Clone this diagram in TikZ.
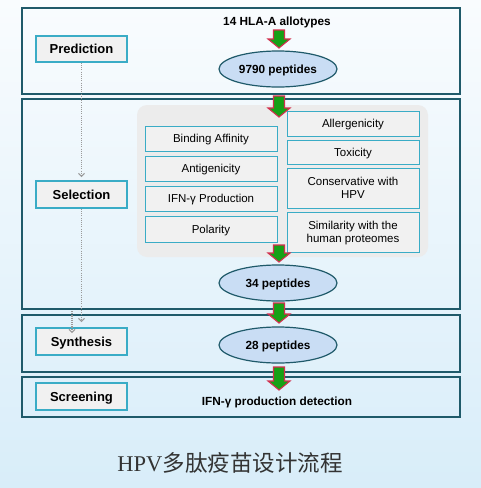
\documentclass[tikz,border=0pt]{standalone}
\usepackage{fontspec}
\setmainfont{Liberation Sans}
\newfontfamily\serifen{Liberation Serif}
\newfontfamily\cjk{Noto Sans CJK SC}
\usetikzlibrary{arrows.meta,shapes.geometric}
\definecolor{panelc}{HTML}{1F5A6A}
\definecolor{boxc}{HTML}{3AACC6}
\definecolor{boxfill}{HTML}{F1F1F1}
\definecolor{ellfill}{HTML}{C9DDF4}
\definecolor{arrg}{HTML}{16A116}
\definecolor{arrr}{HTML}{D2304E}
\definecolor{bgtop}{HTML}{F9FCFE}
\definecolor{bgbot}{HTML}{D8EDF9}
\definecolor{greybg}{HTML}{ECECEC}
\definecolor{dotc}{HTML}{9A9A9A}
\tikzset{
  panel/.style={draw=panelc, line width=1.2pt},
  stagebox/.style={draw=boxc, line width=1.4pt, fill=boxfill, minimum width=91pt, inner sep=0pt, text depth=0pt, font=\fontsize{13}{15}\selectfont\bfseries},
  critbox/.style={draw=boxc, line width=0.9pt, fill=boxfill, minimum width=132pt, inner sep=0pt, font=\fontsize{11.5}{13}\selectfont},
  oneline/.style={critbox, text depth=0pt},
  pep/.style={ellipse, draw=panelc, line width=1.2pt, fill=ellfill, minimum width=118pt, minimum height=36pt, inner sep=0pt, text depth=0pt, font=\fontsize{11.8}{14}\selectfont\bfseries},
  plain/.style={inner sep=0pt, text depth=0pt, font=\fontsize{11.8}{14}\selectfont\bfseries},
  dotarrow/.style={draw=dotc, line width=1.4pt, dash pattern=on 1.1pt off 1.1pt, -{Straight Barb[length=3pt,width=6pt,line width=1pt]}},
}
\newcommand\blockarrow[3]{%
  \draw[fill=arrg, draw=arrr, line width=1.1pt, line join=miter]
    (#1-5.5,#2) -- (#1+5.5,#2) -- (#1+5.5,#3-9) -- (#1+11,#3-9) -- (#1,#3)
    -- (#1-11,#3-9) -- (#1-5.5,#3-9) -- cycle;}
\newcommand\twolines[2]{\begin{tabular}{@{}c@{}}#1\\#2\end{tabular}}
\begin{document}
\begin{tikzpicture}[x=1pt,y=-1pt]
\useasboundingbox (0,0) rectangle (481,488);
\shade[top color=bgtop, bottom color=bgbot] (0,0) rectangle (481,488);
% panels
\draw[panel] (22,8) rectangle (460,94);
\draw[panel] (22,99) rectangle (460,309);
\draw[panel] (22,315) rectangle (460,372);
\draw[panel] (22,377) rectangle (460,417);
% grey area
\fill[greybg, rounded corners=10pt] (137,105) rectangle (428,257);
% stage boxes
\node[stagebox, minimum height=26pt] (pred) at (81.5,49) {Prediction};
\node[stagebox, minimum height=27pt] (sel) at (81.5,194.5) {Selection};
\node[stagebox, minimum height=27pt] (syn) at (81.5,341.5) {Synthesis};
\node[stagebox, minimum height=27pt] (scr) at (81.5,396.5) {Screening};
% criteria
\node[oneline, minimum height=25pt] (ba) at (211,138.5) {Binding Affinity};
\node[oneline, minimum height=25pt] (ant) at (211,168.5) {Antigenicity};
\node[oneline, minimum height=25pt] (ifn) at (211,198.5) {IFN-γ Production};
\node[oneline, minimum height=26pt] (pol) at (211,229) {Polarity};
\node[oneline, minimum height=25pt] (all) at (353,123.5) {Allergenicity};
\node[oneline, minimum height=24pt] (tox) at (353,152) {Toxicity};
\node[critbox, minimum height=40pt] (cons) at (353,188) {};
\node[inner sep=0pt, font=\fontsize{11.5}{13}\selectfont] (consT) at (353,189.5) {\twolines{Conservative with}{HPV}};
\node[critbox, minimum height=40pt] (sim) at (353,232) {};
\node[inner sep=0pt, font=\fontsize{11.5}{13}\selectfont] (simT) at (353,233) {\twolines{Similarity with the}{human proteomes}};
% texts and ellipses
\node[plain] (hla) at (277,21) {14 HLA-A allotypes};
\node[pep] (e1) at (278,69) {9790 peptides};
\node[pep] (e2) at (278,283) {34 peptides};
\node[pep] (e3) at (278,345) {28 peptides};
\node[plain] (det) at (277,401) {IFN-γ production detection};
% block arrows
\blockarrow{279}{30}{48}
\blockarrow{279}{96}{117}
\blockarrow{279}{245}{262}
\blockarrow{279}{303}{323}
\blockarrow{279}{367}{390}
% dotted arrows
\coordinate (d1) at (81.5,177);
\coordinate (d2) at (81.5,322);
\coordinate (d3s) at (72,311);
\coordinate (d3e) at (72,333);
\draw[dotarrow] (pred.south) -- (d1);
\draw[dotarrow] (sel.south) -- (d2);
\draw[dotarrow] (d3s) -- (d3e);
% title
\node[inner sep=0pt, text=black!80] (title) at (230,463) {\fontsize{22.5}{26}\selectfont\serifen HPV\cjk 多肽疫苗设计流程};
\end{tikzpicture}
\end{document}
